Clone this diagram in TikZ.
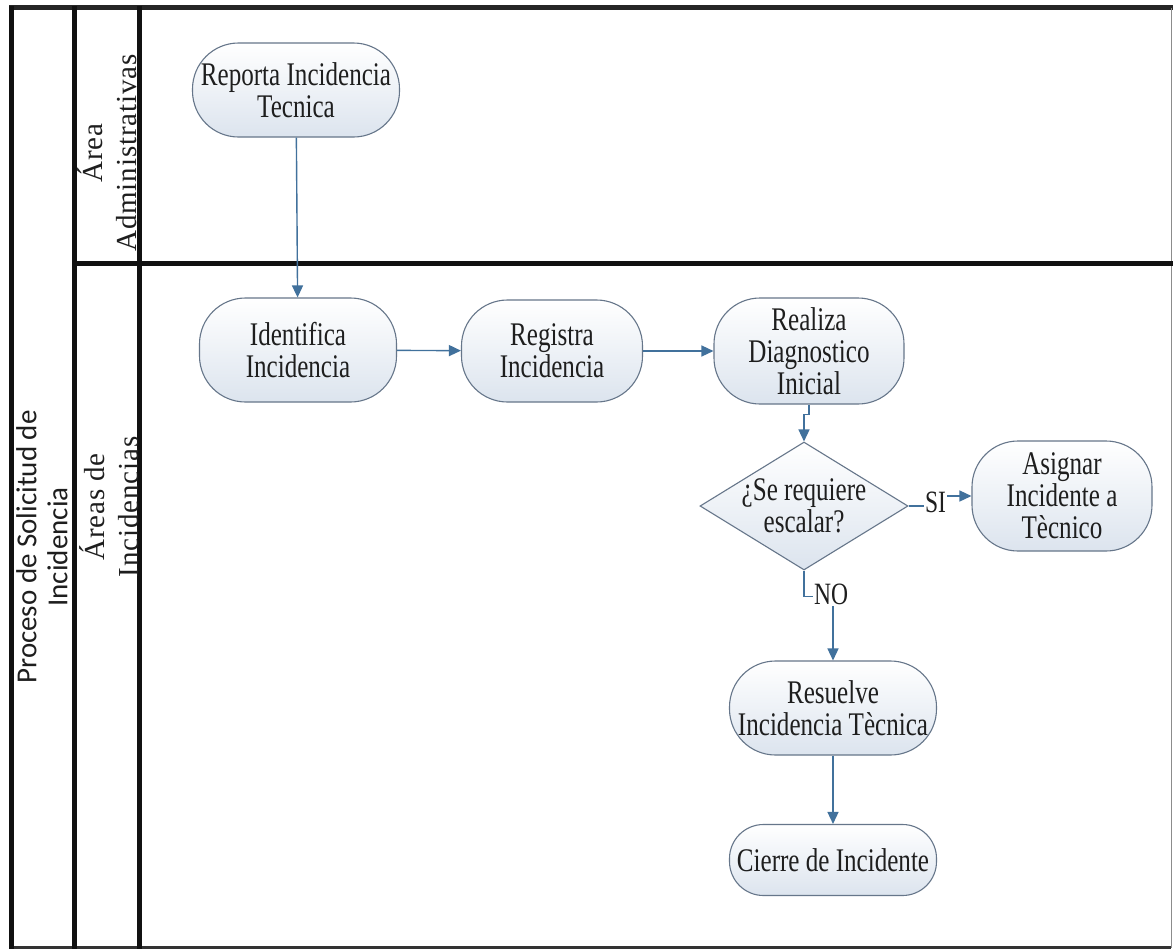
\documentclass[tikz,border=0pt]{standalone}
\usepackage{fontspec}
\setmainfont{Liberation Serif}[FakeStretch=0.76]
\newfontfamily\lanefont{Liberation Serif}[LetterSpace=3]
\newfontfamily\poolfont{Carlito}
\usetikzlibrary{shapes.geometric,arrows.meta}

\definecolor{procedge}{HTML}{66768A}
\definecolor{procfill}{HTML}{DCE4EE}
\definecolor{flow}{HTML}{41719C}
\definecolor{ink}{HTML}{1E1E1E}
\definecolor{frame}{HTML}{111111}

\tikzset{
  proc/.style={draw=procedge, line width=1.1pt, rounded corners=#1,
    top color=white, bottom color=procfill, text=ink, align=center,
    inner sep=2pt, font=\fontsize{33}{32}\selectfont},
  proc/.default=46pt,
  decide/.style={draw=procedge, line width=1.1pt, diamond, aspect=1.625,
    inner sep=-8pt, top color=white, bottom color=procfill, text=ink,
    align=center, font=\fontsize{33}{32}\selectfont},
  flowline/.style={draw=flow, line width=1.4pt,
    -{Triangle[length=12pt,width=11pt]}},
  flowlabel/.style={fill=white, text=ink, inner sep=1pt,
    font=\fontsize{31}{30}\selectfont},
  lanerule/.style={draw=frame, line width=5pt},
  lanetitle/.style={rotate=90, align=center, text=ink,
    font=\lanefont\fontsize{29}{34}\selectfont},
  pooltitle/.style={rotate=90, align=center, text=ink,
    font=\poolfont\fontsize{29}{31}\selectfont}
}

\begin{document}
\begin{tikzpicture}[x=1pt,y=-1pt]
  \useasboundingbox (0,0) rectangle (1173,951);
  \fill[white] (0,0) rectangle (1173,951);

  % pool and lane frame
  \draw[draw=black!85, line width=4.5pt] (9,7.5) -- (1173,7.5);
  \draw[draw=black!45, line width=1.5pt] (1171.5,7.5) -- (1171.5,948);
  \draw[draw=black!80, line width=3pt] (9,947.5) -- (1171,947.5);
  \draw[lanerule] (11.5,5.5) -- (11.5,949);
  \draw[lanerule] (74.5,5.5) -- (74.5,949);
  \draw[lanerule] (139,5.5) -- (139,949);
  \draw[lanerule] (72,263) -- (1173,263);

  % titles
  \node[pooltitle] (pool) at (42,547) {Proceso de Solicitud de\\Incidencia};
  \node[lanetitle] (laneA) at (107,153) {Área\\Administrativas};
  \node[lanetitle] (laneB) at (109,507) {Áreas de\\Incidencias};

  % process steps
  \node[proc, minimum width=207pt, minimum height=94pt] (rep) at (296,90) {Reporta Incidencia\\Tecnica};
  \node[proc, minimum width=197pt, minimum height=104pt] (ide) at (298,350) {Identifica\\Incidencia};
  \node[proc, minimum width=181pt, minimum height=102pt] (reg) at (552,351) {Registra\\Incidencia};
  \node[proc, minimum width=190pt, minimum height=106pt] (rea) at (809,351) {Realiza\\Diagnostico\\Inicial};
  \node[decide, minimum width=208pt, minimum height=128pt] (esc) at (804,506) {¿Se requiere\\escalar?};
  \node[proc, minimum width=180pt, minimum height=110pt] (asi) at (1062,496) {Asignar\\Incidente a\\Tècnico};
  \node[proc, minimum width=207pt, minimum height=94pt] (res) at (833,708) {Resuelve\\Incidencia Tècnica};
  \node[proc=34pt, minimum width=207pt, minimum height=71pt] (cie) at (833,860) {Cierre de Incidente};

  % flow
  \draw[flowline] (rep) -- (ide);
  \draw[flowline] (ide) -- (reg);
  \draw[flowline] (reg) -- (rea);
  \draw[flowline] (rea.south) -- ++(0,10) -| (esc.north);
  \draw[flowline] (esc.east) -- ++(27,0) coordinate (siturn) |- (asi.west);
  \draw[flowline] (esc.south) -- ++(0,26) coordinate (noturn) -| (res.north);
  \draw[flowline] (res) -- (cie);

  % branch labels
  \node[flowlabel, anchor=center] (si) at ([yshift=4pt]siturn) {SI};
  \node[flowlabel, anchor=west] (no) at ([xshift=9pt,yshift=2pt]noturn) {NO};
\end{tikzpicture}
\end{document}
